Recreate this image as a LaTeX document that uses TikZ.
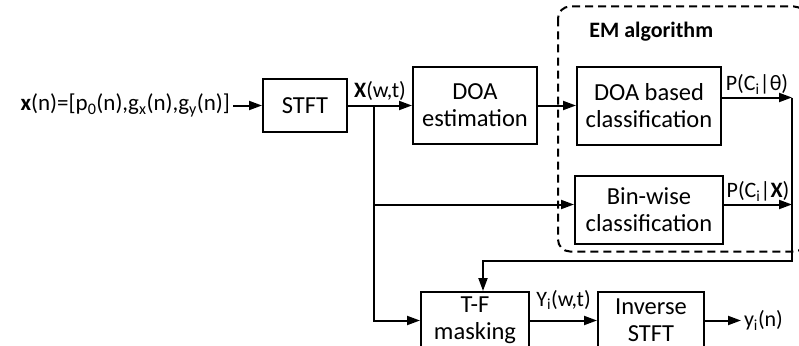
\documentclass[tikz,border=0pt]{standalone}
\usepackage{fontspec}
\setmainfont{Carlito}
\usetikzlibrary{positioning, arrows.meta}

\begin{document}
\begin{tikzpicture}[x=1pt, y=1pt, node distance=30pt, line width=2pt, >={Triangle[length=13pt,width=9pt]},
    block/.style={draw, align=center, inner sep=2pt, font=\fontsize{24.5}{27}\selectfont},  % boxes of the chain
    sig/.style={inner sep=2pt, font=\fontsize{22}{25}\selectfont},  % signal names on the arrows
    emframe/.style={dashed, dash pattern=on 8pt off 5pt, rounded corners=12pt}]  % dashed frame of the EM part
    \useasboundingbox (0,0) rectangle (799,-345);  % page size
    \clip (0,0) rectangle (799,-345);  % cuts the lower boxes at the page edge

    % Nodes
    \node (stft) [block, minimum width=84pt, minimum height=53pt] at (305,-105.5) {STFT};  % first block
    \node (input) [sig, left=29pt of stft, font=\fontsize{23}{26}\selectfont] {\textbf{x}(n)=[p\textsubscript{0}(n),g\textsubscript{x}(n),g\textsubscript{y}(n)]};  % input signal
    \node (doaest) [block, right=64pt of stft, minimum width=124pt, minimum height=77pt] {DOA\\estimation};  % DOA estimation
    \node (doaclass) [block, right=38pt of doaest, minimum width=144pt, minimum height=78pt] {DOA based\\classification};  % first classifier
    \node (binwise) [block, below=29pt of doaclass, minimum width=148pt, minimum height=68pt] {Bin-wise\\classification};  % second classifier
    \node (tfmask) [block, below=146pt of doaest, minimum width=108pt, minimum height=57pt] {T-F\\masking};  % masking block
    \node (invstft) [block, right=67pt of tfmask, minimum width=106pt, minimum height=57pt] {Inverse\\STFT};  % back to time domain
    \node (output) [sig, right=36pt of invstft] {y\textsubscript{i}(n)};  % separated output
    \node (emlabel) [anchor=west, font=\bfseries\fontsize{22}{25}\selectfont] at ([xshift=9pt,yshift=34pt]doaclass.north west) {EM algorithm};  % title of the frame

    % Helper points
    \coordinate (split) at ([xshift=26pt]stft.east);  % branch of X(w,t)
    \coordinate (ptheta) at ([xshift=70pt,yshift=8pt]doaclass.east);  % end of the first posterior
    \coordinate (pbin) at ([yshift=5pt]binwise.east -| ptheta);  % end of the second posterior
    \coordinate (back) at ([yshift=-16pt]binwise.south -| ptheta);  % corner of the feedback line

    % EM frame
    \draw [emframe] ([xshift=-18pt,yshift=59pt]doaclass.north west) rectangle ([xshift=82pt,yshift=-7pt]binwise.south east);

    % Arrows
    \draw [->] (input) -- (stft);  % input into STFT
    \draw [->] (stft) -- node[sig, above, yshift=2pt] {\textbf{X}(w,t)} (doaest);  % STFT output
    \draw [->] (doaest) -- (doaclass);  % DOA into the classifier
    \draw [->] (split) |- ([yshift=5pt]binwise.west);  % X(w,t) into bin-wise classification
    \draw [->] (split) |- (tfmask);  % X(w,t) into masking
    \draw [->] ([yshift=8pt]doaclass.east) -- node[sig, above] {P(C\textsubscript{i}|θ)} (ptheta);  % first posterior
    \draw [->] ([yshift=5pt]binwise.east) -- node[sig, above] {P(C\textsubscript{i}|\textbf{X})} (pbin);  % second posterior
    \draw [->] (ptheta) -- (back) -| ([xshift=8pt]tfmask.north);  % feedback to the mask
    \draw [->] (tfmask) -- node[sig, above, yshift=8pt] {Y\textsubscript{i}(w,t)} (invstft);  % masked spectrum
    \draw [->] (invstft) -- (output);  % output signal
\end{tikzpicture}
\end{document}
